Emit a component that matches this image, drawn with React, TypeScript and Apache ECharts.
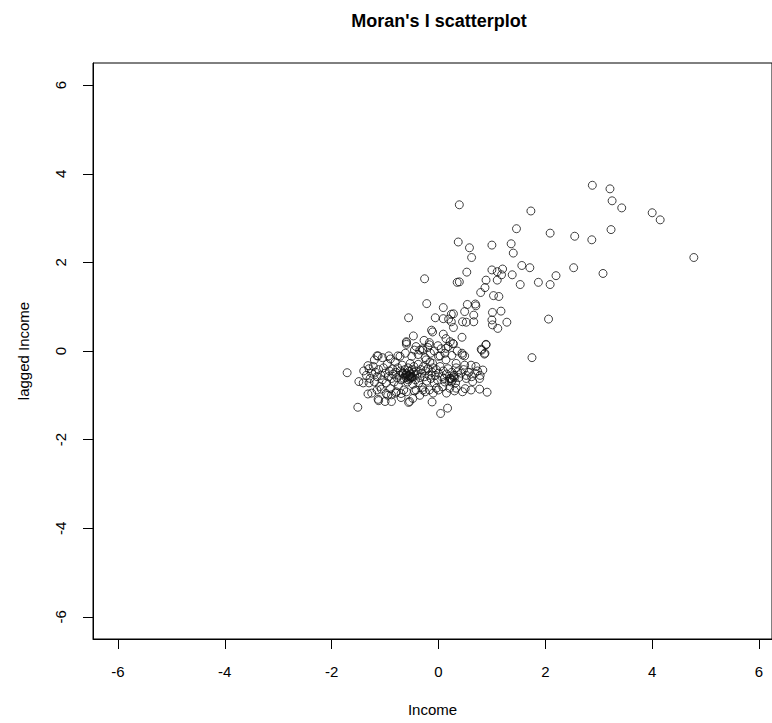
import React, { useEffect, useRef } from "react";
import * as echarts from "echarts";

const title = "Moran's I scatterplot";
const xName = "Income";
const yName = "lagged Income";
const tickValues = [-6, -4, -2, 0, 2, 4, 6];

// upper / sparse points
const incomeHigh = [2.88, 3.21, 3.25, 3.43, 4.0, 4.15, 4.78, 1.73, 1.46, 2.09, 2.55, 2.87, 3.23, 0.39, 0.37, 0.58, 0.62, 1.0, 1.36, 1.4, 0.53, 1.0, 1.1, 1.2, 1.18, 1.1, 1.38, 1.56, 1.71, 1.53, 1.87, 2.09, 2.2, 2.53, 3.08, 0.89, 0.87, 0.79, 1.03, 1.13, 0.54, 0.69, 0.7, 0.49, 0.66, 1.01, 1.17, 0.45, 0.52, 0.66, 1.0, 1.01, 1.11, 1.28, 2.06, 0.44, 0.39, -0.26, 0.35, -0.22, -0.56, 0.09, 1.75];
const laggedHigh = [3.74, 3.66, 3.39, 3.23, 3.12, 2.96, 2.11, 3.16, 2.76, 2.66, 2.59, 2.51, 2.74, 3.3, 2.46, 2.33, 2.11, 2.39, 2.42, 2.21, 1.78, 1.83, 1.79, 1.85, 1.72, 1.6, 1.72, 1.93, 1.88, 1.5, 1.55, 1.5, 1.7, 1.88, 1.75, 1.6, 1.43, 1.32, 1.25, 1.23, 1.05, 1.06, 1.02, 0.89, 0.81, 0.87, 0.9, 0.66, 0.65, 0.66, 0.7, 0.59, 0.51, 0.65, 0.72, 0.31, 1.56, 1.63, 1.55, 1.07, 0.75, 0.98, -0.15];

// middle band points
const incomeMid = [0.24, 0.28, 0.19, 0.24, 0.28, -0.06, 0.09, -0.47, -0.6, -0.6, -0.27, -0.13, -0.11, -0.17, -0.01, 0.09, 0.14, 0.28, 0.22, 0.14, -0.35, 0.89, 0.81, 0.87, 0.44, 0.49, -1.13, 0.89, 0.86, 0.8, 0.45, 0.27, 0.03, -0.93, -0.76, -0.6, -1.15];
const laggedMid = [0.83, 0.84, 0.72, 0.66, 0.53, 0.75, 0.73, 0.34, 0.21, 0.15, 0.24, 0.47, 0.43, 0.19, 0.12, 0.38, 0.28, 0.16, 0.21, 0.06, 0.02, 0.15, 0.02, -0.05, -0.05, -0.11, -0.11, 0.14, -0.07, 0.04, -0.09, 0.17, -0.11, -0.11, -0.11, 0.19, -0.11];

// lower cluster points
const incomeLow = [-1.71, -1.51, -1.32, -1.49, -1.32, -1.13, -1.12, -0.56, -1.41, -1.3, -1.07, -0.98, -0.88, -0.79, -0.7, -0.48, -0.88, -1.0, -0.12, 0.04, 0.17, 0.91, 0.77, 0.61, 0.45, 0.33, 0.21, 0.08, -0.04, -0.17, -0.29, -0.42, 0.64, 0.77, 0.83, 0.7, 0.61, 0.49, 0.36, 0.24, 0.11, 0.33, 0.14, -0.11, -0.23, -0.29, -0.42, -0.17, 0.52, -0.54,
  -1.4, -1.35, -1.3, -1.28, -1.25, -1.22, -1.2, -1.18, -1.15, -1.12, -1.1, -1.08, -1.05, -1.03, -1.0, -0.98, -0.96, -0.94, -0.92, -0.9, -0.88, -0.86, -0.85, -0.83, -0.81, -0.8, -0.78, -0.76, -0.75, -0.73, -0.71, -0.7, -0.68, -0.66, -0.65, -0.63, -0.61, -0.6, -0.58, -0.57, -0.56, -0.55, -0.54, -0.53, -0.52, -0.5, -0.49, -0.48, -0.47, -0.46, -0.45, -0.43, -0.42, -0.4, -0.38, -0.37, -0.35, -0.33, -0.31, -0.3, -0.28, -0.26, -0.24, -0.22, -0.2, -0.18, -0.16, -0.14, -0.12, -0.1, -0.08, -0.06, -0.04, -0.02, 0.0, 0.03, 0.06, 0.09, 0.12, 0.15, 0.18, 0.21, 0.25, 0.29, 0.33, 0.38, 0.42, 0.47, 0.52, 0.57, 0.62, 0.68, 0.73, 0.78,
  -1.2, -1.05, -0.9, -0.72, -0.62, -0.5, -0.45, -0.38, -0.3, -0.25, -0.2, -0.15, -0.08, 0.0, 0.05, 0.12, 0.18, 0.25, 0.35,
  -1.25, -1.15, -0.95, -0.8, -0.7, -0.6, -0.45, -0.35, -0.25, -0.1, 0.0, 0.15, 0.3, 0.5,
  -0.62, -0.58, -0.55, -0.52, -0.65, -0.6, -0.57, -0.53, -0.68, -0.5,
  0.22, 0.26, 0.3, 0.24, 0.28, 0.2, 0.32];
const laggedLow = [-0.49, -1.27, -0.33, -0.69, -0.97, -1.09, -1.12, -1.16, -0.72, -0.72, -0.86, -0.96, -0.99, -0.92, -0.96, -1.07, -1.14, -1.14, -1.15, -1.41, -1.29, -0.93, -0.86, -0.88, -0.92, -0.84, -0.84, -0.81, -0.84, -0.88, -0.88, -0.88, -0.69, -0.62, -0.43, -0.35, -0.32, -0.32, -0.47, -0.62, -0.62, -0.28, -0.2, -0.28, -0.2, 0.02, 0.1, 0.14, -0.62, -1.14,
  -0.45, -0.55, -0.4, -0.62, -0.5, -0.35, -0.7, -0.48, -0.58, -0.42, -0.8, -0.55, -0.65, -0.38, -0.5, -0.72, -0.3, -0.58, -0.45, -0.85, -0.62, -0.4, -0.52, -0.7, -0.25, -0.48, -0.6, -0.38, -0.78, -0.55, -0.45, -0.65, -0.32, -0.52, -0.88, -0.42, -0.6, -0.5, -0.7, -0.38, -0.55, -0.46, -0.62, -0.28, -0.52, -0.42, -0.58, -0.75, -0.48, -0.35, -0.55, -0.65, -0.45, -0.52, -0.3, -0.72, -0.6, -0.42, -0.5, -0.82, -0.35, -0.58, -0.45, -0.68, -0.4, -0.55, -0.25, -0.62, -0.48, -0.38, -0.72, -0.55, -0.42, -0.65, -0.5, -0.35, -0.58, -0.45, -0.7, -0.52, -0.4, -0.62, -0.48, -0.55, -0.38, -0.6, -0.5, -0.42, -0.55, -0.48, -0.58, -0.5, -0.45, -0.55,
  -0.2, -0.15, -0.18, -0.12, -0.05, -0.12, 0.02, -0.08, 0.05, -0.15, 0.08, -0.05, 0.0, -0.12, 0.05, -0.05, 0.1, -0.1, 0.0,
  -0.95, -0.88, -1.0, -0.95, -1.05, -0.92, -0.9, -1.0, -0.92, -0.95, -0.88, -0.95, -0.9, -0.85,
  -0.55, -0.58, -0.56, -0.6, -0.62, -0.52, -0.65, -0.58, -0.5, -0.6,
  -0.62, -0.66, -0.6, -0.7, -0.58, -0.68, -0.72];

const FONT = "Liberation Sans, Arial, sans-serif";

export default function App() {
  const ref = useRef<HTMLDivElement>(null);
  useEffect(() => {
    if (!ref.current) return;
    const chart = echarts.init(ref.current, undefined, { renderer: "svg" });
    const toPairs = (xs: number[], ys: number[]) => xs.map((x, i) => [x, ys[i]]);
    const data = [
      ...toPairs(incomeHigh, laggedHigh),
      ...toPairs(incomeMid, laggedMid),
      ...toPairs(incomeLow, laggedLow),
    ];
    chart.setOption({
      animation: false,
      backgroundColor: "#ffffff",
      graphic: [
        {
          type: "text",
          x: 439,
          y: 21,
          style: {
            text: title,
            fontFamily: FONT,
            fontWeight: "bold",
            fontSize: 18,
            fill: "#000",
            textAlign: "center",
            textVerticalAlign: "middle",
          },
        },
      ],
      grid: {
        left: 93,
        top: 63,
        width: 680,
        height: 576,
        show: true,
        borderColor: "#000",
        borderWidth: 1,
        backgroundColor: "transparent",
      },
      xAxis: {
        type: "value",
        min: -6.467,
        max: 6.243,
        name: xName,
        nameLocation: "middle",
        nameGap: 63,
        nameTextStyle: { fontFamily: FONT, fontSize: 15, color: "#000" },
        axisLine: { show: true, onZero: false, lineStyle: { color: "#000", width: 1 } },
        axisTick: { show: true, inside: false, length: 10, customValues: tickValues, lineStyle: { color: "#000" } },
        axisLabel: { show: true, margin: 25, customValues: tickValues, fontFamily: FONT, fontSize: 15, color: "#000" },
        splitLine: { show: false },
      },
      yAxis: {
        type: "value",
        min: -6.5,
        max: 6.5,
        name: yName,
        nameLocation: "middle",
        nameGap: 62,
        nameRotate: 90,
        nameTextStyle: { fontFamily: FONT, fontSize: 15, color: "#000" },
        axisLine: { show: true, onZero: false, lineStyle: { color: "#000", width: 1 } },
        axisTick: { show: true, inside: false, length: 10, customValues: tickValues, lineStyle: { color: "#000" } },
        axisLabel: { show: true, rotate: 90, margin: 25, customValues: tickValues, fontFamily: FONT, fontSize: 15, color: "#000" },
        splitLine: { show: false },
      },
      series: [
        {
          type: "scatter",
          data,
          symbol: "circle",
          symbolSize: 8,
          itemStyle: { color: "transparent", borderColor: "#111", borderWidth: 1 },
          emphasis: { disabled: true },
        },
      ],
    });
    return () => chart.dispose();
  }, []);
  return <div ref={ref} style={{ position: "absolute", left: 0, top: 0, width: 772, height: 723 }} />;
}
